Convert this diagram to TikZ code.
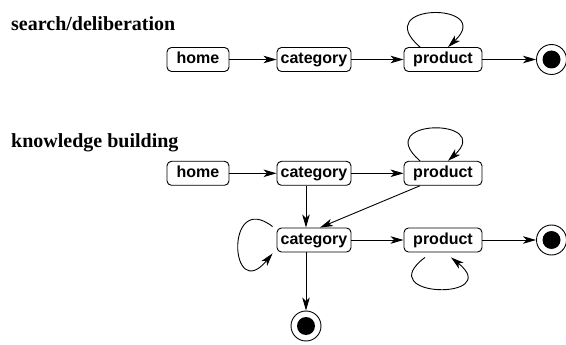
\documentclass[tikz,border=0pt]{standalone}
\usepackage{fontspec}
\setmainfont{Liberation Serif}
\newfontfamily\boxfont{Liberation Sans}
\usetikzlibrary{arrows.meta,calc}
\tikzset{
  state/.style={draw, line width=0.9pt, rounded corners=4.5pt, minimum height=24pt,
    inner sep=0pt, font=\boxfont\bfseries\fontsize{16}{18}\selectfont,
    text height=11.6pt, text depth=3.4pt},
  endouter/.style={draw, circle, line width=0.9pt, minimum size=30pt, inner sep=0pt},
  enddot/.style={fill=black, circle, minimum size=18pt, inner sep=0pt},
  heading/.style={anchor=base west, inner sep=0pt, font=\bfseries\fontsize{20}{24}\selectfont},
  flow/.style={line width=0.9pt, -{Stealth[length=13pt,width=7.5pt,inset=3.5pt]}},
}
\begin{document}
\begin{tikzpicture}[x=1pt,y=-1pt]
\useasboundingbox (0,0) rectangle (566,345);
% headings
\node[heading] (t1) at (11,31) {search/deliberation};
\node[heading] (t2) at (11,147) {knowledge building};
% row 1
\node[state, minimum width=62pt] (h1) at (198,59.5) {home};
\node[state, minimum width=74pt] (c1) at (314,59.5) {category};
\node[state, minimum width=78pt] (p1) at (443,59.5) {product};
\node[endouter] (e1) at (551.5,59.5) {};
\node[enddot] (d1) at (e1.center) {};
% row 2
\node[state, minimum width=62pt] (h2) at (198,173.3) {home};
\node[state, minimum width=74pt] (c2) at (314,173.3) {category};
\node[state, minimum width=78pt] (p2) at (443,173.3) {product};
% row 3
\node[state, minimum width=74pt] (c3) at (314,240) {category};
\node[state, minimum width=78pt] (p3) at (443,240) {product};
\node[endouter] (e3) at (551.5,240) {};
\node[enddot] (d3) at (e3.center) {};
% bottom end
\node[endouter] (e4) at (306,326) {};
\node[enddot] (d4) at (e4.center) {};
% connectors row 1
\draw[flow] (h1) -- (c1);
\draw[flow] (c1) -- (p1);
\draw[flow] (p1) -- (e1);
\draw[flow] ($(p1.north)+(-23,0)$) .. controls +(-52,-45) and +(48,-45) .. ($(p1.north)+(5,0)$);
% connectors rows 2-3
\draw[flow] (h2) -- (c2);
\draw[flow] (c2) -- (p2);
\draw[flow] ($(p2.north)+(-23,0)$) .. controls +(-50,-43) and +(47,-43) .. ($(p2.north)+(5,0)$);
\draw[flow] ($(c2.south)+(-8,0)$) -- ($(c3.north)+(-8,0)$);
\draw[flow] ($(p2.south)+(-23,0)$) -- ($(c3.north)+(6,0)$);
\draw[flow] ($(c3.north west)+(-4,-1)$) .. controls +(-48,-37) and +(-43,52) .. ($(c3.south west)+(-4,1)$);
\draw[flow] (c3) -- (p3);
\draw[flow] (p3) -- (e3);
\draw[flow] ($(p3.south)+(-18,5)$) .. controls +(-55,41) and +(54,43) .. ($(p3.south)+(8,5)$);
\draw[flow] ($(c3.south)+(-8,0)$) -- (e4);
\end{tikzpicture}
\end{document}
